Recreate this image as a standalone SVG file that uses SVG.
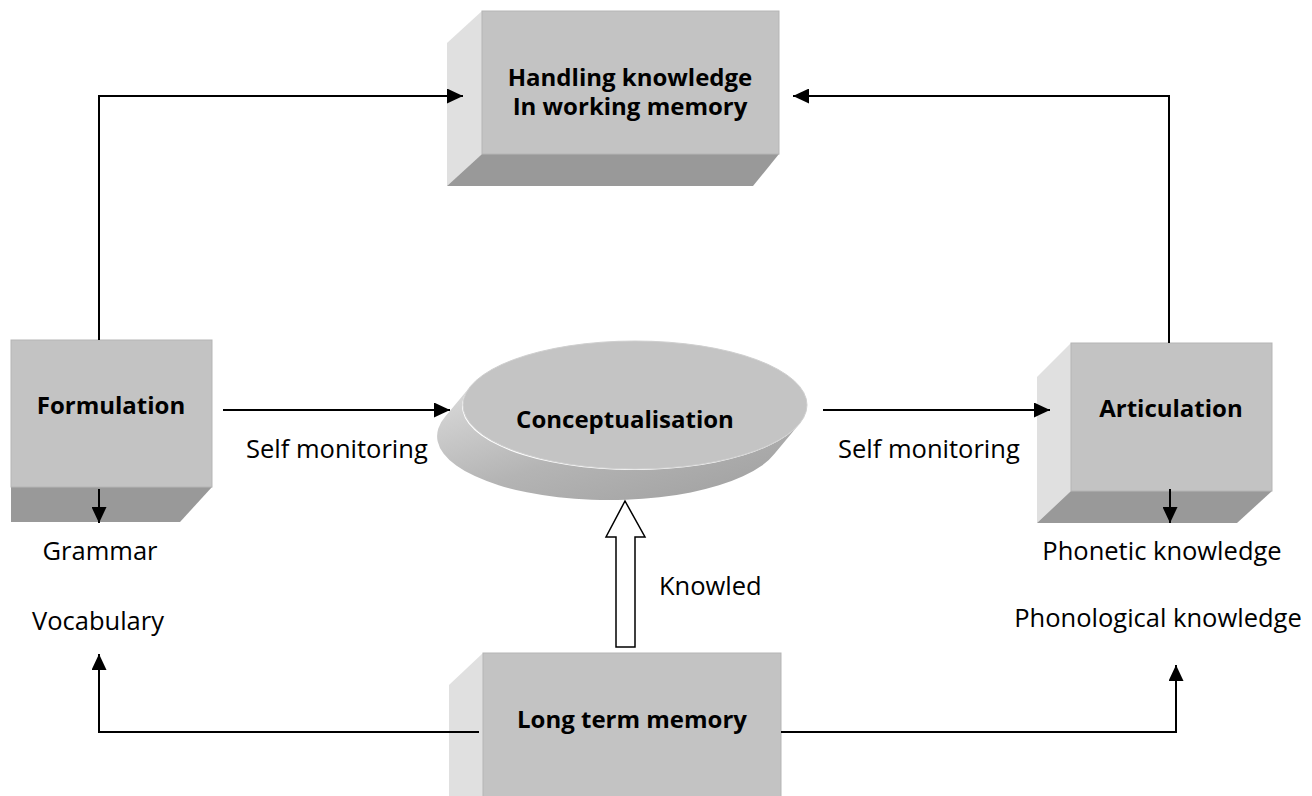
<svg xmlns="http://www.w3.org/2000/svg" width="1312" height="796" viewBox="0 0 1312 796">
<defs>
<style>
.front{fill:#c3c3c3;stroke:#b5b5b5;stroke-width:1}
.side{fill:#e0e0e0}
.bottom{fill:#999999}
.bold{font-family:"Open Sans","Liberation Sans",sans-serif;font-weight:bold;font-size:24px;fill:#000;text-anchor:middle}
.lbl{font-family:"Open Sans","Liberation Sans",sans-serif;font-size:25.5px;fill:#000}
.conn{fill:none;stroke:#000;stroke-width:2}
</style>
<marker id="ah" markerUnits="userSpaceOnUse" markerWidth="16" markerHeight="15" refX="16" refY="7.5" orient="auto">
<path d="M0,0 L16,7.5 L0,15 z" fill="#000"/>
</marker>
<linearGradient id="disk" x1="0" y1="0" x2="1" y2="1">
<stop offset="0" stop-color="#dcdcdc"/>
<stop offset="0.5" stop-color="#b4b4b4"/>
<stop offset="1" stop-color="#9e9e9e"/>
</linearGradient>
</defs>
<rect width="1312" height="796" fill="#fff"/>

<g id="handling">
<polygon class="side" points="447,43 482,11 482,154 447,186"/>
<polygon class="bottom" points="482,154 779,154 753,186 447,186"/>
<rect class="front" x="482" y="11" width="297" height="143"/>
<text class="bold" x="630" y="86">Handling knowledge</text>
<text class="bold" x="630" y="115">In working memory</text>
</g>

<g id="formulation">
<polygon class="bottom" points="11,487 212,487 180,522 11,522"/>
<rect class="front" x="11" y="340" width="201" height="147"/>
<text class="bold" x="111" y="414">Formulation</text>
</g>

<g id="articulation">
<polygon class="side" points="1037,377 1071,343 1071,491 1037,523"/>
<polygon class="bottom" points="1071,491 1272,491 1237,523 1037,523"/>
<rect class="front" x="1071" y="343" width="201" height="148"/>
<text class="bold" x="1171" y="417">Articulation</text>
</g>

<g id="conceptualisation">
<path d="M470.7,386.1 L445.7,416.1 A172,64 0 1,0 774.3,453.9 L799.3,423.9 A172,64 0 1,1 470.7,386.1 Z" fill="url(#disk)"/>
<ellipse cx="635" cy="405" rx="172" ry="64" fill="#c4c4c4" stroke="#cfcfcf" stroke-width="1"/>
<text class="bold" x="625" y="428">Conceptualisation</text>
</g>

<g id="longterm">
<polygon class="side" points="449,685 483,653 483,796 449,796"/>
<rect class="front" x="483" y="653" width="298" height="150"/>
<text class="bold" x="632" y="728">Long term memory</text>
</g>

<g id="connectors">
<path class="conn" d="M99,340 V96 H463" marker-end="url(#ah)"/>
<path class="conn" d="M1169,343 V96 H793" marker-end="url(#ah)"/>
<path class="conn" d="M223,410 H450" marker-end="url(#ah)"/>
<path class="conn" d="M823,410 H1050" marker-end="url(#ah)"/>
<path class="conn" d="M99,489 V523" marker-end="url(#ah)"/>
<path class="conn" d="M1170,489 V523" marker-end="url(#ah)"/>
<path class="conn" d="M479,732 H99 V654" marker-end="url(#ah)"/>
<path class="conn" d="M781,732 H1176 V665" marker-end="url(#ah)"/>
<polygon points="616,647 616,537 606,537 625,501 645,537 635,537 635,647" fill="#fff" stroke="#000" stroke-width="1.5"/>
</g>

<g id="labels">
<text class="lbl" x="246" y="458">Self monitoring</text>
<text class="lbl" x="838" y="458">Self monitoring</text>
<text class="lbl" x="659" y="595">Knowled</text>
<text class="lbl" x="100" y="560" text-anchor="middle">Grammar</text>
<text class="lbl" x="98" y="630" text-anchor="middle">Vocabulary</text>
<text class="lbl" x="1162" y="560" text-anchor="middle">Phonetic knowledge</text>
<text class="lbl" x="1158" y="627" text-anchor="middle">Phonological knowledge</text>
</g>
</svg>
